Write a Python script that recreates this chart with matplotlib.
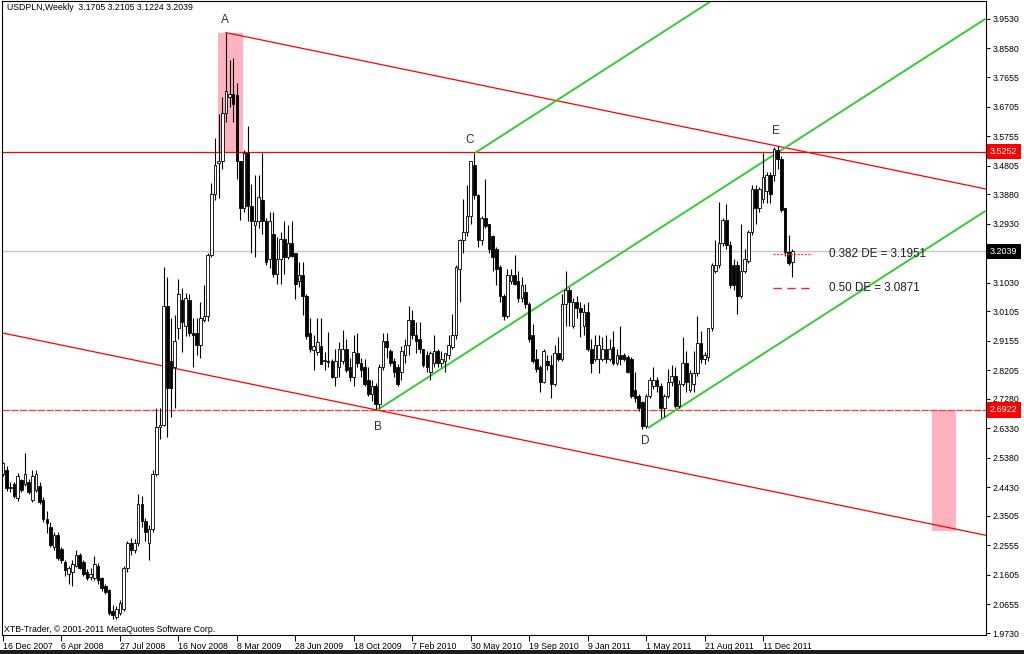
import matplotlib
matplotlib.use("Agg")
import matplotlib.pyplot as plt
import matplotlib.transforms as mtransforms
from matplotlib.patches import Rectangle
import numpy as np

plt.rcParams['font.family'] = ['Liberation Sans', 'DejaVu Sans']

# ---------------- data (weekly USDPLN candles) ----------------
opens = [2.487, 2.500, 2.440, 2.454, 2.408, 2.467, 2.454, 2.460, 2.401, 2.434,
         2.447, 2.401, 2.341, 2.315, 2.249, 2.289, 2.243, 2.203, 2.163, 2.170,
         2.190, 2.223, 2.203, 2.170, 2.155, 2.150, 2.190, 2.150, 2.124, 2.111,
         2.045, 2.025, 2.038, 2.051, 2.183, 2.262, 2.240, 2.262, 2.388, 2.335,
         2.262, 2.309, 2.487, 2.638, 2.645, 3.027, 2.850, 2.830, 2.957, 3.047,
         2.962, 3.047, 2.942, 2.942, 2.902, 2.981, 2.995, 3.192, 3.390, 3.488,
         3.495, 3.650, 3.700, 3.710, 3.707, 3.496, 3.344, 3.520, 3.350, 3.290,
         3.300, 3.370, 3.300, 3.180, 3.260, 3.130, 3.180, 3.245, 3.186, 3.232,
         3.200, 3.107, 3.126, 3.060, 2.940, 2.885, 2.880, 2.900, 2.850, 2.850,
         2.850, 2.800, 2.830, 2.850, 2.890, 2.830, 2.800, 2.876, 2.843, 2.830,
         2.790, 2.744, 2.770, 2.710, 2.830, 2.915, 2.882, 2.850, 2.830, 2.816,
         2.869, 2.902, 2.981, 2.935, 2.922, 2.889, 2.869, 2.816, 2.843, 2.882,
         2.843, 2.849, 2.869, 2.896, 2.935, 3.146, 3.239, 3.265, 3.318, 3.483,
         3.384, 3.239, 3.311, 3.291, 3.252, 3.212, 3.153, 3.061, 2.995, 3.107,
         3.126, 3.107, 3.054, 3.074, 3.034, 2.935, 2.856, 2.830, 2.784, 2.850,
         2.836, 2.777, 2.876, 2.856, 3.034, 3.080, 2.962, 3.041, 3.021, 2.962,
         3.008, 2.889, 2.856, 2.856, 2.856, 2.889, 2.856, 2.896, 2.843, 2.869,
         2.869, 2.863, 2.856, 2.757, 2.737, 2.717, 2.640, 2.737, 2.770, 2.790,
         2.770, 2.698, 2.737, 2.784, 2.803, 2.704, 2.777, 2.843, 2.757, 2.777,
         2.810, 2.909, 2.856, 2.863, 2.955, 3.140, 3.159, 3.232, 3.305, 3.225,
         3.159, 3.159, 3.061, 3.140, 3.173, 3.265, 3.404, 3.344, 3.371, 3.397,
         3.450, 3.450, 3.530, 3.500, 3.344, 3.203, 3.1705]
highs = [2.526, 2.510, 2.460, 2.460, 2.490, 2.470, 2.553, 2.470, 2.500, 2.500,
         2.460, 2.410, 2.368, 2.330, 2.300, 2.300, 2.250, 2.210, 2.190, 2.210,
         2.240, 2.230, 2.210, 2.180, 2.183, 2.220, 2.200, 2.155, 2.130, 2.115,
         2.064, 2.060, 2.080, 2.190, 2.270, 2.280, 2.275, 2.420, 2.415, 2.345,
         2.320, 2.500, 2.698, 2.698, 3.153, 3.120, 2.990, 3.000, 3.113, 3.087,
         3.070, 3.067, 2.990, 2.990, 3.040, 3.094, 3.200, 3.423, 3.568, 3.648,
         3.700, 3.909, 3.820, 3.826, 3.746, 3.496, 3.530, 3.608, 3.420, 3.450,
         3.450, 3.520, 3.310, 3.330, 3.330, 3.250, 3.265, 3.300, 3.290, 3.300,
         3.200, 3.170, 3.170, 3.067, 2.990, 2.935, 2.990, 2.990, 2.880, 2.945,
         2.856, 2.890, 2.910, 2.950, 2.920, 2.860, 2.935, 2.940, 2.860, 2.856,
         2.830, 2.790, 2.780, 2.840, 2.940, 2.940, 2.890, 2.860, 2.840, 2.900,
         2.920, 3.028, 3.014, 2.975, 2.975, 2.889, 2.882, 2.882, 2.935, 2.889,
         2.882, 2.876, 2.935, 3.001, 3.159, 3.245, 3.371, 3.417, 3.496, 3.522,
         3.390, 3.318, 3.437, 3.291, 3.258, 3.219, 3.159, 3.067, 3.146, 3.146,
         3.192, 3.140, 3.120, 3.100, 3.040, 2.968, 2.889, 2.836, 2.889, 2.870,
         2.869, 2.902, 2.929, 3.067, 3.140, 3.090, 3.054, 3.061, 3.041, 3.034,
         3.041, 2.922, 2.935, 2.935, 2.929, 2.935, 2.922, 2.948, 2.889, 2.962,
         2.875, 2.869, 2.863, 2.816, 2.744, 2.720, 2.744, 2.797, 2.830, 2.800,
         2.780, 2.744, 2.823, 2.836, 2.830, 2.790, 2.929, 2.882, 2.820, 2.882,
         2.995, 2.948, 2.880, 2.955, 3.166, 3.239, 3.364, 3.311, 3.357, 3.238,
         3.180, 3.173, 3.291, 3.212, 3.272, 3.417, 3.417, 3.410, 3.522, 3.460,
         3.460, 3.540, 3.545, 3.510, 3.344, 3.256, 3.2105]
lows = [2.480, 2.430, 2.427, 2.408, 2.400, 2.427, 2.447, 2.420, 2.394, 2.427,
        2.388, 2.330, 2.295, 2.250, 2.240, 2.210, 2.200, 2.157, 2.130, 2.124,
        2.185, 2.180, 2.157, 2.144, 2.144, 2.144, 2.130, 2.110, 2.100, 2.030,
        2.018, 2.018, 2.030, 2.045, 2.170, 2.225, 2.230, 2.255, 2.315, 2.270,
        2.210, 2.300, 2.480, 2.600, 2.640, 2.605, 2.670, 2.700, 2.920, 2.880,
        2.930, 2.930, 2.830, 2.870, 2.860, 2.975, 2.980, 3.185, 3.370, 3.377,
        3.470, 3.620, 3.670, 3.620, 3.437, 3.305, 3.330, 3.300, 3.200, 3.185,
        3.280, 3.260, 3.160, 3.150, 3.120, 3.100, 3.100, 3.130, 3.180, 3.185,
        3.050, 3.090, 3.000, 2.920, 2.880, 2.820, 2.870, 2.840, 2.820, 2.830,
        2.795, 2.770, 2.800, 2.840, 2.815, 2.785, 2.770, 2.830, 2.800, 2.770,
        2.737, 2.720, 2.695, 2.700, 2.820, 2.860, 2.835, 2.800, 2.770, 2.790,
        2.843, 2.870, 2.922, 2.876, 2.876, 2.830, 2.816, 2.790, 2.830, 2.830,
        2.830, 2.816, 2.856, 2.889, 2.922, 3.041, 3.199, 3.252, 3.291, 3.371,
        3.219, 3.225, 3.278, 3.200, 3.140, 3.094, 3.041, 2.981, 2.988, 3.100,
        3.094, 3.041, 3.041, 3.020, 2.910, 2.843, 2.816, 2.751, 2.780, 2.820,
        2.731, 2.770, 2.850, 2.849, 2.962, 2.962, 2.955, 2.990, 2.929, 2.935,
        2.882, 2.810, 2.850, 2.810, 2.850, 2.843, 2.850, 2.836, 2.836, 2.836,
        2.850, 2.810, 2.731, 2.717, 2.690, 2.632, 2.635, 2.730, 2.760, 2.750,
        2.665, 2.671, 2.730, 2.770, 2.698, 2.700, 2.770, 2.751, 2.750, 2.751,
        2.803, 2.843, 2.840, 2.849, 2.948, 3.133, 3.150, 3.220, 3.210, 3.087,
        3.080, 3.001, 3.054, 3.133, 3.166, 3.258, 3.291, 3.330, 3.360, 3.360,
        3.360, 3.430, 3.470, 3.330, 3.190, 3.160, 3.1224]
closes = [2.520, 2.440, 2.445, 2.414, 2.480, 2.434, 2.487, 2.427, 2.480, 2.487,
          2.394, 2.341, 2.328, 2.256, 2.289, 2.216, 2.210, 2.177, 2.183, 2.196,
          2.223, 2.183, 2.163, 2.150, 2.163, 2.196, 2.144, 2.117, 2.104, 2.038,
          2.030, 2.051, 2.071, 2.183, 2.262, 2.240, 2.262, 2.388, 2.335, 2.300,
          2.309, 2.487, 2.638, 2.645, 3.027, 2.764, 2.764, 2.915, 3.067, 2.975,
          3.054, 2.942, 2.935, 2.902, 2.988, 2.995, 3.192, 3.390, 3.483, 3.495,
          3.650, 3.720, 3.710, 3.680, 3.496, 3.344, 3.520, 3.350, 3.300, 3.300,
          3.378, 3.300, 3.170, 3.300, 3.130, 3.180, 3.245, 3.186, 3.232, 3.190,
          3.100, 3.126, 3.060, 2.930, 2.890, 2.900, 2.910, 2.840, 2.853, 2.848,
          2.800, 2.850, 2.890, 2.890, 2.820, 2.800, 2.880, 2.843, 2.820, 2.777,
          2.744, 2.770, 2.710, 2.830, 2.915, 2.895, 2.843, 2.816, 2.777, 2.882,
          2.902, 2.981, 2.935, 2.915, 2.889, 2.836, 2.830, 2.876, 2.882, 2.843,
          2.856, 2.876, 2.902, 2.935, 3.153, 3.239, 3.265, 3.318, 3.496, 3.384,
          3.239, 3.311, 3.285, 3.212, 3.186, 3.146, 3.061, 2.995, 3.126, 3.126,
          3.100, 3.054, 3.094, 3.034, 2.922, 2.849, 2.823, 2.784, 2.882, 2.836,
          2.777, 2.876, 2.856, 3.034, 3.080, 3.041, 3.041, 3.021, 3.008, 3.008,
          2.889, 2.843, 2.902, 2.902, 2.889, 2.856, 2.889, 2.843, 2.869, 2.856,
          2.856, 2.816, 2.737, 2.731, 2.698, 2.640, 2.737, 2.790, 2.790, 2.770,
          2.700, 2.737, 2.784, 2.803, 2.704, 2.777, 2.843, 2.784, 2.810, 2.810,
          2.909, 2.856, 2.869, 2.955, 3.159, 3.159, 3.232, 3.305, 3.225, 3.094,
          3.094, 3.061, 3.140, 3.179, 3.265, 3.404, 3.344, 3.404, 3.443, 3.450,
          3.390, 3.535, 3.500, 3.337, 3.203, 3.166, 3.2039]

date_labels = ['16 Dec 2007', '6 Apr 2008', '27 Jul 2008', '16 Nov 2008', '8 Mar 2009',
               '28 Jun 2009', '18 Oct 2009', '7 Feb 2010', '30 May 2010', '19 Sep 2010',
               '9 Jan 2011', '1 May 2011', '21 Aug 2011', '11 Dec 2011']
weeks_between_labels = 16
price_ticks = [3.9530, 3.8580, 3.7655, 3.6705, 3.5755, 3.4805, 3.3880, 3.2930,
               3.1030, 3.0105, 2.9155, 2.8205, 2.7280, 2.6330, 2.5380, 2.4430,
               2.3505, 2.2555, 2.1605, 2.0655, 1.9730]

level_high = 3.5252
level_low = 2.6922
last_price = 3.2039
fib_382 = 3.1951
fib_50 = 3.0871

# pattern points (week index, price)
pt_A = (61, 3.909)
pt_B = (102.4, 2.692)
pt_C = (129.3, 3.522)
pt_D = (176.5, 2.634)

# ---------------- figure ----------------
W, H = 1024, 654
fig = plt.figure(figsize=(W / 100, H / 100), dpi=100)
fig.patch.set_facecolor('white')
left_px, right_px, top_px, bot_px = 2, 985.5, 1, 634.5
ax = fig.add_axes([left_px / W, 1 - bot_px / H, (right_px - left_px) / W, (bot_px - top_px) / H])
ax.set_facecolor('white')

x_min, x_max = -0.27, 268.9
y_min, y_max = 1.9682, 4.0110
ax.set_xlim(x_min, x_max)
ax.set_ylim(y_min, y_max)

# ---------------- pink zones ----------------
ax.add_patch(Rectangle((58.9, level_high), 65.8 - 58.9, pt_A[1] - level_high,
                       facecolor='#ffb3c0', edgecolor='none', zorder=1))
ax.add_patch(Rectangle((254.3, 2.303), 260.8 - 254.3, level_low - 2.303,
                       facecolor='#ffb3c0', edgecolor='none', zorder=1))

# ---------------- horizontal levels ----------------
ax.axhline(last_price, color='#c8c8c8', lw=1.0, zorder=1.5)
ax.axhline(level_high, color='#ff0000', lw=0.9, zorder=2)
ax.axhline(level_low, color='#ff3a3a', lw=0.9, ls=(0, (6, 1)), zorder=2)

# ---------------- red descending channel ----------------
slope_red = (3.405 - pt_A[1]) / (x_max - pt_A[0])
ax.plot([pt_A[0], x_max], [pt_A[1], pt_A[1] + slope_red * (x_max - pt_A[0])],
        color='#ff0000', lw=0.9, zorder=2)
ax.plot([x_min, x_max], [pt_B[1] + slope_red * (x_min - pt_B[0]),
                         pt_B[1] + slope_red * (x_max - pt_B[0])],
        color='#ff0000', lw=0.9, zorder=2)

# ---------------- green rising channel ----------------
slope_green = 0.007577
for px, py in (pt_B, pt_C, pt_D):
    ax.plot([px, x_max], [py, py + slope_green * (x_max - px)],
            color='#33cc33', lw=1.4, zorder=2.2, solid_capstyle='butt')

# ---------------- candles ----------------
o = np.array(opens); h = np.array(highs); l = np.array(lows); c = np.array(closes)
idx = np.arange(len(c))
ax.vlines(idx, l, h, color='black', lw=0.8, zorder=3)
bull = c >= o
bottom = np.minimum(o, c)
height = np.maximum(np.abs(c - o), 0.003)
ax.bar(idx[bull], height[bull], bottom=bottom[bull], width=0.72,
       color='white', edgecolor='black', linewidth=0.6, zorder=4)
ax.bar(idx[~bull], height[~bull], bottom=bottom[~bull], width=0.72,
       color='black', edgecolor='black', linewidth=0.6, zorder=4)

# ---------------- fibo marks ----------------
ax.plot([210.7, 221.4], [fib_382, fib_382], color='#ff4040', lw=1.0, ls=(0, (1.5, 1.0)), zorder=5)
ax.plot([210.7, 221.4], [fib_50, fib_50], color='#ff2020', lw=1.0, ls=(0, (6, 4)), zorder=5)
ax.text(226.0, fib_382, '0.382 DE = 3.1951', fontsize=8.4, color='#202020', va='center', ha='left', zorder=6)
ax.text(226.0, fib_50, '0.50 DE = 3.0871', fontsize=8.4, color='#202020', va='center', ha='left', zorder=6)

# ---------------- point labels ----------------
lab_style = dict(fontsize=8.5, color='#303030', ha='center', va='center', zorder=6)
ax.text(60.8, 3.950, 'A', **lab_style)
ax.text(102.6, 2.637, 'B', **lab_style)
ax.text(127.8, 3.563, 'C', **lab_style)
ax.text(175.7, 2.592, 'D', **lab_style)
ax.text(211.5, 3.592, 'E', **lab_style)

# ---------------- axes styling ----------------
for s in ax.spines.values():
    s.set_color('black')
    s.set_linewidth(0.8)
ax.yaxis.tick_right()
ax.set_yticks(price_ticks)
ax.set_yticklabels(['%.4f' % v for v in price_ticks])
ax.tick_params(axis='y', direction='out', length=3, width=0.7, labelsize=6.3, pad=2, colors='black')
ax.set_xticks([k * weeks_between_labels for k in range(len(date_labels))])
ax.set_xticklabels(date_labels)
for t in ax.get_xticklabels():
    t.set_ha('left')
ax.tick_params(axis='x', direction='out', length=4, width=0.7, labelsize=6.3, pad=1.5, colors='black')

# price tags on the right axis
bt = mtransforms.blended_transform_factory(ax.transAxes, ax.transData)
for val, bg in ((level_high, '#ff0000'), (level_low, '#ff0000'), (last_price, '#000000')):
    ax.text(1.0045, val, '%.4f' % val, transform=bt, fontsize=6.5, color='white',
            ha='left', va='center', clip_on=False, zorder=10,
            bbox=dict(boxstyle='square,pad=0.35', fc=bg, ec='none'))

# header / footer texts
fig.text(7 / W, 1 - 8 / H, 'USDPLN,Weekly  3.1705 3.2105 3.1224 3.2039',
         fontsize=6.3, va='center', ha='left', color='black')
fig.text(4 / W, 1 - 630 / H, 'XTB-Trader, \u00a9 2001-2011 MetaQuotes Software Corp.',
         fontsize=6.3, va='center', ha='left', color='black')

# dark window edge at the bottom
fig.add_artist(Rectangle((0, 0), 1, 4 / H, transform=fig.transFigure,
                         facecolor='#1e1e1e', edgecolor='none'))

fig.savefig('out.png', dpi=100, facecolor='white')
